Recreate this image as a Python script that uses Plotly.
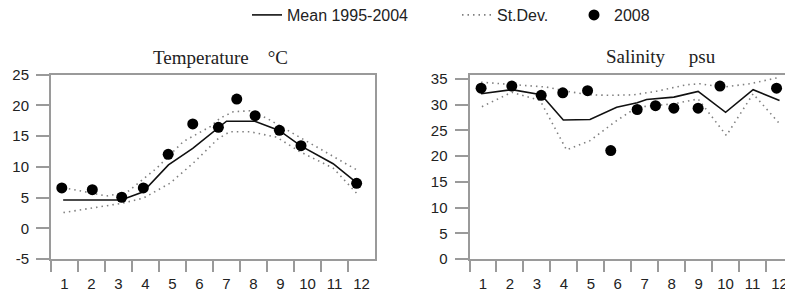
import plotly.graph_objects as go

months = list(range(1, 13))
month_labels = [str(m) for m in months]
t_ticks = [-5, 0, 5, 10, 15, 20, 25]
s_ticks = [0, 5, 10, 15, 20, 25, 30, 35]

# Temperature (°C)
t_mean_x = [0.95, 3.1, 3.9, 4.85, 5.75, 6.7, 7.0, 8.05, 8.95, 9.75, 10.95, 11.85]
t_mean_y = [4.6, 4.6, 5.9, 10.3, 13.0, 16.4, 17.4, 17.4, 15.9, 13.4, 10.5, 7.3]
t_up_x = [0.96, 2.56, 3.3, 4.41, 5.4, 6.39, 6.76, 7.25, 7.87, 8.49, 9.35, 10.34, 11.82]
t_up_y = [6.6, 5.25, 5.8, 9.75, 14.1, 16.5, 17.9, 18.95, 19.1, 17.9, 15.7, 13.2, 9.5]
t_lo_x = [0.96, 2.19, 3.12, 3.92, 4.9, 5.77, 6.7, 7.13, 7.87, 8.86, 9.72, 10.96, 11.88]
t_lo_y = [2.55, 3.35, 4.05, 4.9, 7.3, 10.6, 14.6, 15.7, 15.7, 14.8, 12.45, 9.75, 5.4]
t_obs_x = [0.90, 2.03, 3.12, 3.92, 4.84, 5.75, 6.70, 7.38, 8.06, 8.96, 9.76, 11.82]
t_obs_y = [6.55, 6.28, 5.04, 6.55, 12.03, 16.96, 16.42, 21.0, 18.3, 15.93, 13.43, 7.31]

# Salinity (psu)
s_mean_x = [0.93, 2.07, 3.16, 3.98, 4.97, 5.96, 6.72, 7.07, 8.08, 8.98, 10.0, 11.02, 12.0]
s_mean_y = [32.1, 32.9, 31.9, 27.0, 27.1, 29.5, 30.35, 31.0, 31.45, 32.55, 28.5, 32.9, 30.8]
s_up_x = [0.93, 2.07, 3.37, 4.1, 4.97, 5.71, 6.57, 7.44, 8.55, 9.04, 9.91, 10.9, 12.0]
s_up_y = [34.35, 33.9, 33.4, 32.6, 31.9, 31.8, 31.9, 32.6, 33.85, 34.05, 33.4, 34.05, 35.3]
s_lo_x = [0.96, 2.07, 3.12, 4.1, 4.97, 5.96, 6.72, 8.08, 8.98, 10.03, 11.02, 12.0]
s_lo_y = [29.6, 32.4, 30.8, 21.2, 23.0, 26.9, 29.5, 30.15, 31.1, 24.0, 32.1, 26.3]
s_obs_x = [0.93, 2.07, 3.16, 3.96, 4.88, 5.74, 6.72, 7.40, 8.08, 8.98, 9.79, 11.89]
s_obs_y = [33.2, 33.6, 31.8, 32.3, 32.7, 21.07, 29.05, 29.8, 29.3, 29.3, 33.6, 33.2]

names = ["Mean 1995-2004", "St.Dev.", "2008"]

mean_line = dict(color="#111111", width=1.6)
sd_line = dict(color="#808080", width=1.6, dash="1.5px,4px")
dot_marker = dict(color="#000000", size=11)

fig = go.Figure()

def add_panel(xa, ya, mx, my, ux, uy, lx, ly, ox, oy, show):
    fig.add_trace(go.Scatter(x=mx, y=my, mode="lines", line=mean_line, name=names[0],
                             legend="legend", showlegend=show, legendgroup="m",
                             xaxis=xa, yaxis=ya))
    fig.add_trace(go.Scatter(x=ux, y=uy, mode="lines", line=sd_line, name=names[1],
                             legend="legend2", showlegend=show, legendgroup="s",
                             xaxis=xa, yaxis=ya))
    fig.add_trace(go.Scatter(x=lx, y=ly, mode="lines", line=sd_line, name=names[1],
                             legend="legend2", showlegend=False, legendgroup="s",
                             xaxis=xa, yaxis=ya))
    fig.add_trace(go.Scatter(x=ox, y=oy, mode="markers", marker=dot_marker, name=names[2],
                             legend="legend3", showlegend=show, legendgroup="o",
                             xaxis=xa, yaxis=ya))

add_panel("x", "y", t_mean_x, t_mean_y, t_up_x, t_up_y, t_lo_x, t_lo_y, t_obs_x, t_obs_y, True)
add_panel("x2", "y2", s_mean_x, s_mean_y, s_up_x, s_up_y, s_lo_x, s_lo_y, s_obs_x, s_obs_y, False)

# the page body has an 8px margin; work in screen pixels and convert
OFF = 8
W, H = 793 - OFF, 302 - OFF

def sx(px):
    return (px - OFF) / W

def sy(py):
    return 1 - (py - OFF) / H

axcol = "#9a9a9a"
tickfont = dict(family="Liberation Sans, Arial, sans-serif", size=15, color="#222222")

def xaxis(domain, anchor):
    return dict(domain=domain, anchor=anchor, range=[0.5, 12.5], automargin=False,
                tickmode="array", tickvals=months, ticktext=month_labels,
                ticks="", tickfont=tickfont, showgrid=False, zeroline=False,
                showline=True, linecolor=axcol, linewidth=2, mirror=True,
                minor=dict(tickmode="array", tickvals=[m - 0.5 for m in months],
                           ticks="outside", ticklen=11, tickwidth=1.5, tickcolor=axcol,
                           showgrid=False),
                ticklabelstandoff=10)

def yaxis(domain, anchor, rng, vals):
    return dict(domain=domain, anchor=anchor, range=rng, tickmode="array", tickvals=vals,
                ticktext=[str(v) for v in vals],
                automargin=False,
                ticks="outside", ticklen=13, tickwidth=1.5, tickcolor=axcol,
                tickfont=tickfont, showgrid=False, zeroline=False,
                showline=True, linecolor=axcol, linewidth=2, mirror=True,
                ticklabelstandoff=4)

ydom = [sy(259), sy(74.5)]
fig.update_layout(
    width=W, height=H,
    margin=dict(l=0, r=0, t=0, b=0, autoexpand=False),
    paper_bgcolor="white", plot_bgcolor="white",
    xaxis=xaxis([sx(51), sx(375)], "y"),
    yaxis=yaxis(ydom, "x", [-5, 25], t_ticks),
    xaxis2=xaxis([sx(469.5), 1.0], "y2"),
    yaxis2=yaxis(ydom, "x2", [0, 35.85], s_ticks),
    font=dict(family="Liberation Sans, Arial, sans-serif", size=15, color="#222222"),
)

legfont = dict(family="Liberation Sans, Arial, sans-serif", size=16, color="#222222")
for key, px in [("legend", 247), ("legend2", 457), ("legend3", 574)]:
    fig.update_layout({key: dict(x=sx(px), y=sy(15), xanchor="left", yanchor="middle",
                                 orientation="h", font=legfont, bgcolor="rgba(0,0,0,0)",
                                 borderwidth=0)})

title_font = dict(family="Liberation Serif, Times New Roman, serif", size=19, color="#222222")
fig.add_annotation(text="Temperature\u00a0\u00a0\u00a0\u00a0°C", x=sx(220), y=sy(58),
                   xref="paper", yref="paper", showarrow=False, font=title_font,
                   xanchor="center", yanchor="middle")
fig.add_annotation(text="Salinity\u00a0\u00a0\u00a0\u00a0\u00a0psu", x=sx(661), y=sy(57),
                   xref="paper", yref="paper", showarrow=False, font=title_font,
                   xanchor="center", yanchor="middle")

fig.write_html("out.html")
